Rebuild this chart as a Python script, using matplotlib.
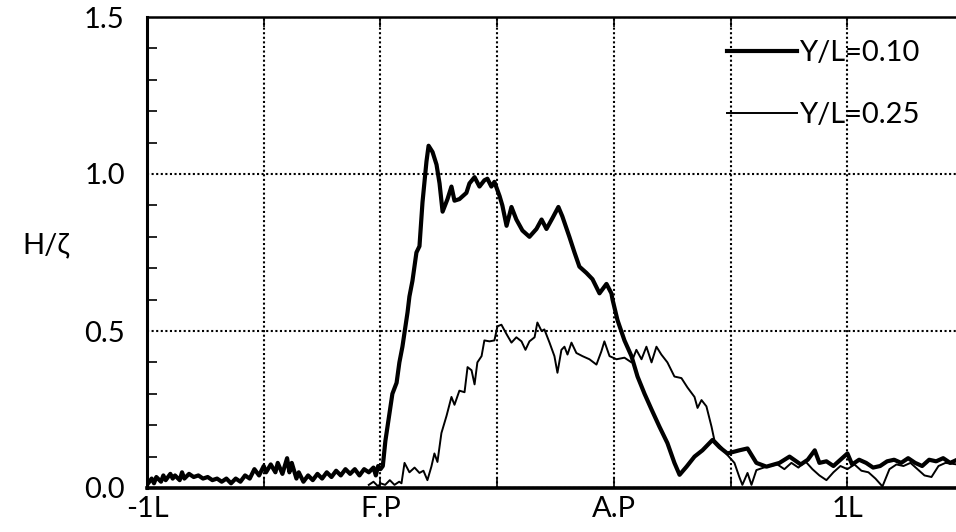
import numpy as np
import matplotlib.pyplot as plt
from matplotlib.ticker import MultipleLocator

# position in ship lengths measured from F.P (F.P = 0, A.P = 1)
x_010 = [-1.00, -0.98, -0.97, -0.96, -0.94, -0.93, -0.92, -0.90, -0.89, -0.88,
         -0.86, -0.85, -0.84, -0.82, -0.80, -0.78, -0.76, -0.74, -0.72, -0.70,
         -0.68, -0.66, -0.64, -0.62, -0.60, -0.58, -0.56, -0.54, -0.52, -0.50,
         -0.49, -0.47, -0.45, -0.44, -0.42, -0.41, -0.40, -0.39, -0.38, -0.36,
         -0.35, -0.33, -0.31, -0.29, -0.27, -0.25, -0.23, -0.21, -0.19, -0.17,
         -0.15, -0.13, -0.11, -0.09, -0.07, -0.05, -0.03, -0.02, -0.01, 0.00,
         0.01, 0.021, 0.039, 0.051, 0.069, 0.081, 0.094, 0.116, 0.124, 0.137,
         0.154, 0.167, 0.180, 0.197, 0.206, 0.223, 0.240, 0.253, 0.266, 0.287,
         0.304, 0.317, 0.338, 0.368, 0.381, 0.403, 0.424, 0.445, 0.458, 0.475,
         0.488, 0.510, 0.522, 0.540, 0.561, 0.582, 0.608, 0.638, 0.668, 0.690,
         0.711, 0.737, 0.762, 0.779, 0.809, 0.831, 0.852, 0.882, 0.908, 0.938,
         0.968, 0.989, 0.994, 1.015, 1.045, 1.075, 1.101, 1.131, 1.161, 1.195,
         1.229, 1.259, 1.281, 1.311, 1.345, 1.379, 1.422, 1.452, 1.486, 1.537,
         1.572, 1.610, 1.653, 1.709, 1.752, 1.80, 1.83, 1.86, 1.88, 1.91,
         1.94, 1.97, 2.00, 2.02, 2.05, 2.08, 2.11, 2.14, 2.17, 2.20,
         2.23, 2.26, 2.29, 2.32, 2.35, 2.38, 2.41, 2.44, 2.47]
h_010 = [0.01, 0.03, 0.015, 0.035, 0.02, 0.04, 0.025, 0.045, 0.03, 0.04,
         0.025, 0.05, 0.03, 0.045, 0.035, 0.04, 0.03, 0.035, 0.025, 0.03,
         0.02, 0.03, 0.015, 0.03, 0.02, 0.04, 0.03, 0.06, 0.04, 0.07,
         0.05, 0.075, 0.05, 0.08, 0.045, 0.07, 0.095, 0.05, 0.08, 0.03,
         0.05, 0.02, 0.04, 0.025, 0.045, 0.03, 0.05, 0.035, 0.055, 0.04,
         0.06, 0.045, 0.06, 0.04, 0.06, 0.05, 0.065, 0.04, 0.07, 0.06,
         0.07, 0.15, 0.24, 0.30, 0.335, 0.40, 0.45, 0.56, 0.61, 0.66,
         0.75, 0.77, 0.91, 1.04, 1.09, 1.07, 1.03, 0.97, 0.88, 0.92,
         0.96, 0.915, 0.92, 0.94, 0.97, 0.99, 0.96, 0.98, 0.985, 0.96,
         0.975, 0.93, 0.90, 0.835, 0.895, 0.855, 0.82, 0.80, 0.825, 0.855,
         0.825, 0.86, 0.895, 0.865, 0.80, 0.75, 0.705, 0.685, 0.665, 0.62,
         0.65, 0.62, 0.60, 0.535, 0.47, 0.42, 0.355, 0.30, 0.25, 0.195,
         0.143, 0.08, 0.042, 0.068, 0.10, 0.12, 0.153, 0.13, 0.11, 0.12,
         0.126, 0.08, 0.068, 0.08, 0.10, 0.075, 0.09, 0.12, 0.08, 0.085,
         0.07, 0.09, 0.11, 0.075, 0.09, 0.08, 0.065, 0.07, 0.085, 0.09,
         0.08, 0.095, 0.08, 0.07, 0.09, 0.085, 0.095, 0.08, 0.09]

x_025 = [-0.05, -0.03, -0.01, 0.00, 0.02, 0.04, 0.06, 0.08, 0.09, 0.103,
         0.124, 0.146, 0.167, 0.184, 0.201, 0.218, 0.231, 0.244, 0.261, 0.283,
         0.304, 0.317, 0.338, 0.360, 0.373, 0.390, 0.403, 0.415, 0.433, 0.445,
         0.467, 0.488, 0.501, 0.518, 0.540, 0.561, 0.582, 0.604, 0.621, 0.638,
         0.660, 0.672, 0.690, 0.702, 0.724, 0.745, 0.758, 0.775, 0.788, 0.801,
         0.818, 0.839, 0.865, 0.895, 0.925, 0.946, 0.959, 0.981, 1.011, 1.045,
         1.075, 1.096, 1.118, 1.139, 1.161, 1.182, 1.203, 1.229, 1.259, 1.289,
         1.315, 1.345, 1.358, 1.375, 1.396, 1.418, 1.430, 1.460, 1.486, 1.516,
         1.537, 1.550, 1.572, 1.589, 1.610, 1.653, 1.70, 1.73, 1.76, 1.79,
         1.82, 1.85, 1.88, 1.91, 1.94, 1.97, 2.00, 2.03, 2.06, 2.09,
         2.12, 2.15, 2.18, 2.21, 2.24, 2.27, 2.30, 2.33, 2.36, 2.39,
         2.42, 2.47]
h_025 = [0.01, 0.02, 0.005, 0.015, 0.01, 0.025, 0.01, 0.02, 0.015, 0.08,
         0.05, 0.065, 0.048, 0.055, 0.025, 0.068, 0.11, 0.083, 0.175, 0.23,
         0.29, 0.265, 0.31, 0.305, 0.385, 0.375, 0.33, 0.40, 0.42, 0.47,
         0.467, 0.47, 0.515, 0.52, 0.49, 0.463, 0.48, 0.467, 0.44, 0.467,
         0.48, 0.527, 0.50, 0.505, 0.463, 0.42, 0.367, 0.44, 0.45, 0.425,
         0.463, 0.43, 0.42, 0.41, 0.393, 0.435, 0.467, 0.42, 0.41, 0.415,
         0.40, 0.44, 0.41, 0.45, 0.40, 0.45, 0.425, 0.40, 0.355, 0.35,
         0.32, 0.29, 0.255, 0.28, 0.26, 0.195, 0.153, 0.13, 0.105, 0.08,
         0.035, 0.01, 0.048, 0.01, 0.057, 0.068, 0.075, 0.06, 0.08, 0.065,
         0.085, 0.06, 0.04, 0.025, 0.05, 0.07, 0.06, 0.075, 0.055, 0.05,
         0.03, 0.005, 0.06, 0.075, 0.07, 0.08, 0.06, 0.04, 0.035, 0.07,
         0.08, 0.075]

x_ticks = [-1, -0.5, 0, 0.5, 1, 1.5, 2]
x_labels = ['-1L', '', 'F.P', '', 'A.P', '', '1L']
y_ticks = [0.0, 0.5, 1.0, 1.5]
y_labels = ['0.0', '0.5', '1.0', '1.5']

plt.rcParams['font.family'] = ['Lato', 'DejaVu Sans']
fs = 21

fig = plt.figure(figsize=(9.56, 5.32), dpi=100)
ax = fig.add_axes([147 / 956, 44 / 532, 809 / 956, 471 / 532])

ax.plot(x_010, h_010, c='k', lw=3.0, label='Y/L=0.10')
ax.plot(x_025, h_025, c='k', lw=1.4, label='Y/L=0.25')

ax.set_xlim(-1, 2.465)
ax.set_ylim(0, 1.5)
ax.set_xticks(x_ticks)
ax.set_xticklabels(x_labels, fontsize=fs)
ax.set_yticks(y_ticks)
ax.set_yticklabels(y_labels, fontsize=fs)
ax.yaxis.set_minor_locator(MultipleLocator(0.1))
ax.tick_params(which='both', direction='in', top=True, length=7, width=1.2)
ax.tick_params(axis='x', pad=6)
ax.tick_params(axis='y', which='major', length=0, pad=16)
ax.grid(True, ls=(0, (1, 1.2)), c='k', lw=1.5)

ax.spines['right'].set_visible(False)
ax.spines['left'].set_linewidth(2.2)
ax.spines['bottom'].set_linewidth(2.6)
ax.spines['top'].set_linewidth(1.8)

fig.text(46 / 956, 1 - 245 / 532, 'H/ζ', fontsize=fs, ha='center', va='center')

ax.legend(loc='upper right', bbox_to_anchor=(920 / 956, 1 - 40 / 532),
          bbox_transform=fig.transFigure, frameon=False, fontsize=fs,
          handlelength=2.4, handletextpad=0.1, labelspacing=1.25,
          borderpad=0, borderaxespad=0)

fig.savefig('out.png', dpi=100)
